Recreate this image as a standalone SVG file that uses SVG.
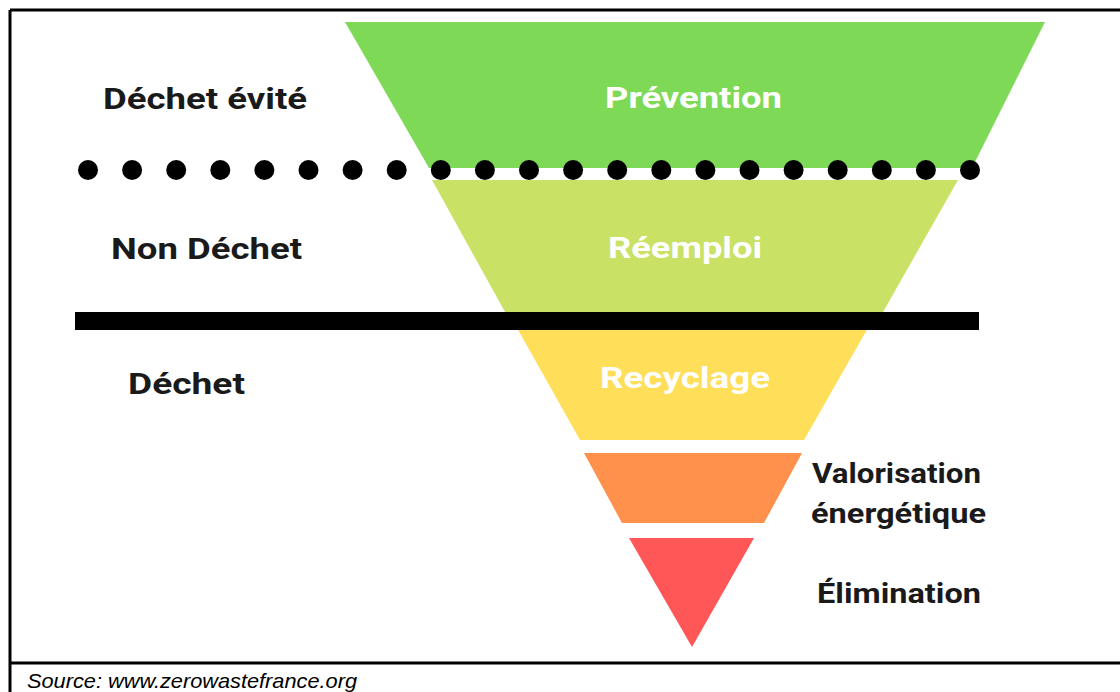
<svg xmlns="http://www.w3.org/2000/svg" xmlns:xlink="http://www.w3.org/1999/xlink" width="1120" height="692" viewBox="0 0 1120 692">
  <style>
    .frame { stroke: #000; stroke-width: 3; fill: none; }
    .tier-label { font-family: Roboto, "Liberation Sans", Arial, sans-serif; font-weight: 700; font-size: 30px; fill: #ffffff; }
    .side-label { font-family: Roboto, "Liberation Sans", Arial, sans-serif; font-weight: 700; font-size: 30px; fill: #1a1a1a; }
    .small-label { font-family: Roboto, "Liberation Sans", Arial, sans-serif; font-weight: 700; font-size: 27px; fill: #1a1a1a; }
    .source { font-family: "Liberation Sans", Arial, sans-serif; font-style: italic; font-size: 21px; fill: #000; }
  </style>
  <defs>
    <circle id="dot" r="10" fill="#000"/>
  </defs>

  <rect x="0" y="0" width="1120" height="692" fill="#ffffff"/>

  <!-- outer frame: top, left and bottom rules -->
  <g id="frame">
    <line class="frame" x1="10" y1="10" x2="1120" y2="10"/>
    <line class="frame" x1="10" y1="10" x2="10" y2="692"/>
    <line class="frame" x1="10" y1="663" x2="1120" y2="663"/>
  </g>

  <!-- inverted pyramid tiers -->
  <g id="tier-prevention">
    <polygon points="345,22 1045,22 972,168 429,168" fill="#7ED957"/>
    <text class="tier-label" x="605" y="108" textLength="177" lengthAdjust="spacingAndGlyphs">Prévention</text>
  </g>
  <g id="tier-reemploi">
    <polygon points="432,180 958,180 883,312 505,312" fill="#C9E265"/>
    <text class="tier-label" x="608" y="258" textLength="154" lengthAdjust="spacingAndGlyphs">Réemploi</text>
  </g>
  <g id="tier-recyclage">
    <polygon points="508,312 877,312 804,440 580,440" fill="#FFDE59"/>
    <text class="tier-label" x="600" y="388" textLength="170" lengthAdjust="spacingAndGlyphs">Recyclage</text>
  </g>
  <g id="tier-valorisation">
    <polygon points="584,453 802,453 764,523 622,523" fill="#FF914D"/>
    <text class="small-label" x="812" y="483" textLength="169" lengthAdjust="spacingAndGlyphs">Valorisation</text>
    <text class="small-label" x="811" y="523" textLength="175" lengthAdjust="spacingAndGlyphs">énergétique</text>
  </g>
  <g id="tier-elimination">
    <polygon points="629,538 754,538 692,647" fill="#FF5757"/>
    <text class="small-label" x="817" y="603" textLength="164" lengthAdjust="spacingAndGlyphs">Élimination</text>
  </g>

  <!-- category separators -->
  <g id="connectors">
    <g id="dotted-separator">
      <use xlink:href="#dot" x="88" y="170"/>
      <use xlink:href="#dot" x="132.1" y="170"/>
      <use xlink:href="#dot" x="176.2" y="170"/>
      <use xlink:href="#dot" x="220.3" y="170"/>
      <use xlink:href="#dot" x="264.4" y="170"/>
      <use xlink:href="#dot" x="308.5" y="170"/>
      <use xlink:href="#dot" x="352.6" y="170"/>
      <use xlink:href="#dot" x="396.7" y="170"/>
      <use xlink:href="#dot" x="440.8" y="170"/>
      <use xlink:href="#dot" x="484.9" y="170"/>
      <use xlink:href="#dot" x="529" y="170"/>
      <use xlink:href="#dot" x="573.1" y="170"/>
      <use xlink:href="#dot" x="617.2" y="170"/>
      <use xlink:href="#dot" x="661.3" y="170"/>
      <use xlink:href="#dot" x="705.4" y="170"/>
      <use xlink:href="#dot" x="749.5" y="170"/>
      <use xlink:href="#dot" x="793.6" y="170"/>
      <use xlink:href="#dot" x="837.7" y="170"/>
      <use xlink:href="#dot" x="881.8" y="170"/>
      <use xlink:href="#dot" x="925.9" y="170"/>
      <use xlink:href="#dot" x="970" y="170"/>
    </g>
    <rect id="solid-separator" x="75" y="312" width="904" height="18" fill="#000"/>
  </g>

  <!-- category labels -->
  <g id="label-dechet-evite">
    <text class="side-label" x="103" y="109" textLength="204" lengthAdjust="spacingAndGlyphs">Déchet évité</text>
  </g>
  <g id="label-non-dechet">
    <text class="side-label" x="111" y="259" textLength="191" lengthAdjust="spacingAndGlyphs">Non Déchet</text>
  </g>
  <g id="label-dechet">
    <text class="side-label" x="128" y="394" textLength="117" lengthAdjust="spacingAndGlyphs">Déchet</text>
  </g>

  <text class="source" x="27" y="688" textLength="330" lengthAdjust="spacingAndGlyphs">Source: www.zerowastefrance.org</text>
</svg>
